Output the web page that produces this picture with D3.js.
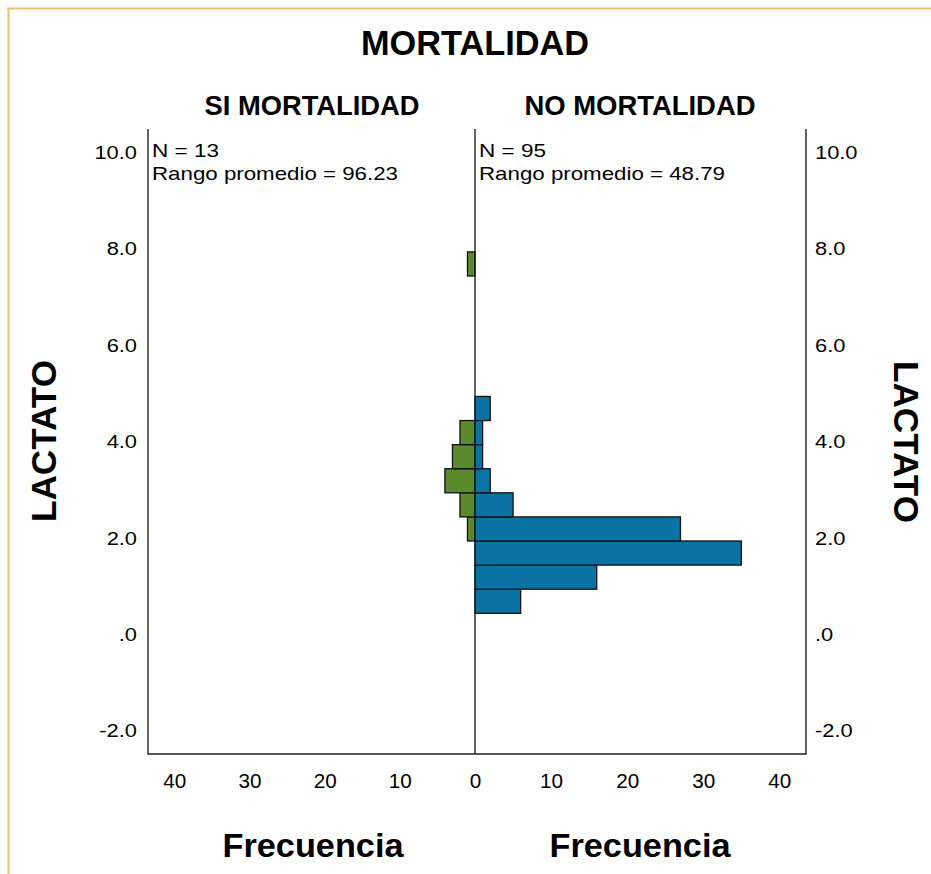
<!DOCTYPE html>
<html lang="en">
<head>
  <meta charset="utf-8" />
  <title>MORTALIDAD - LACTATO</title>
  <script src="https://cdnjs.cloudflare.com/ajax/libs/d3/7.8.5/d3.min.js"></script>
  <style>
    body { margin: 0; background: #fff; }
    svg text { font-family: "Liberation Sans", Arial, sans-serif; fill: #000; }
  </style>
</head>
<body>
<svg id="chart" width="931" height="874"></svg>
<script>
  // bins of LACTATO (lower edge, width 0.5)
  const binStarts = [0.5, 1.0, 1.5, 2.0, 2.5, 3.0, 3.5, 4.0, 4.5, 7.5];
  const siCounts  = [0, 0, 0, 1, 2, 4, 3, 2, 0, 1];   // SI MORTALIDAD
  const noCounts  = [6, 16, 35, 27, 5, 2, 1, 1, 2, 0]; // NO MORTALIDAD
  const binWidth = 0.5;

  const yTicks = [-2, 0, 2, 4, 6, 8, 10];
  const xTicks = [0, 10, 20, 30, 40];
  const panels = [
    { title: "SI MORTALIDAD", n: 13, rango: "96.23", counts: siCounts, color: "#5b8a2d", side: -1 },
    { title: "NO MORTALIDAD", n: 95, rango: "48.79", counts: noCounts, color: "#0a73a4", side: 1 }
  ];

  const svg = d3.select("#chart");

  // stretch text a bit, like the original rendering
  function widen(sel, k) {
    sel.each(function() {
      this.setAttribute("textLength", this.getComputedTextLength() * k);
      this.setAttribute("lengthAdjust", "spacingAndGlyphs");
    });
  }

  // outer yellow frame (top + left edge)
  svg.append("line").attr("x1", 7).attr("x2", 931).attr("y1", 8.5).attr("y2", 8.5)
    .attr("stroke", "#e9c46f").attr("stroke-width", 2);
  svg.append("line").attr("x1", 8.5).attr("x2", 8.5).attr("y1", 8).attr("y2", 874)
    .attr("stroke", "#e9c46f").attr("stroke-width", 2);

  const pLeft = 148, pRight = 806, mid = 475, pTop = 129, pBottom = 754;

  const y = d3.scaleLinear().domain([-2.42, 10.55]).range([pBottom, pTop]);
  const xR = d3.scaleLinear().domain([0, 43.5]).range([mid, pRight]);
  const xL = d3.scaleLinear().domain([0, 43.5]).range([mid, pLeft]);

  const fmtY = d => d === 0 ? ".0" : (d < 0 ? "-" + Math.abs(d).toFixed(1) : d.toFixed(1));

  // y axes (labels only)
  svg.append("g").attr("transform", "translate(" + pLeft + ",-3)")
    .call(d3.axisLeft(y).tickValues(yTicks).tickFormat(fmtY).tickSize(0).tickPadding(11))
    .call(g => g.select(".domain").remove())
    .selectAll("text").attr("font-size", 19).attr("fill", "#000")
    .style("font-family", "Liberation Sans, Arial").call(widen, 1.15);
  svg.append("g").attr("transform", "translate(" + pRight + ",-3)")
    .call(d3.axisRight(y).tickValues(yTicks).tickFormat(fmtY).tickSize(0).tickPadding(9))
    .call(g => g.select(".domain").remove())
    .selectAll("text").attr("font-size", 19).attr("fill", "#000")
    .style("font-family", "Liberation Sans, Arial").call(widen, 1.15);

  // x axes (labels only)
  [xL, xR].forEach(function(sc, i) {
    const vals = i === 0 ? xTicks.slice(1) : xTicks;
    svg.append("g").attr("transform", "translate(0," + pBottom + ")")
      .call(d3.axisBottom(sc).tickValues(vals).tickSize(0).tickPadding(19))
      .call(g => g.select(".domain").remove())
      .selectAll("text").attr("font-size", 21).attr("fill", "#000")
      .style("font-family", "Liberation Sans, Arial")
      .attr("textLength", d => String(d).length * 11.5)
      .attr("lengthAdjust", "spacingAndGlyphs");
  });

  // bars
  panels.forEach(function(p) {
    const sc = p.side < 0 ? xL : xR;
    svg.append("g").selectAll("rect")
      .data(binStarts.map((b, i) => ({ b: b, c: p.counts[i] })).filter(d => d.c > 0))
      .enter().append("rect")
      .attr("x", d => p.side < 0 ? sc(d.c) : mid)
      .attr("width", d => Math.abs(sc(d.c) - mid))
      .attr("y", d => y(d.b + binWidth))
      .attr("height", d => y(d.b) - y(d.b + binWidth))
      .attr("fill", p.color)
      .attr("stroke", "#111")
      .attr("stroke-width", 1.3);
  });

  // frame lines
  const frame = svg.append("g").attr("stroke", "#222").attr("stroke-width", 1.4).attr("fill", "none");
  frame.append("path").attr("d", "M" + pLeft + "," + pTop + "V" + pBottom + "H" + pRight + "V" + pTop);
  frame.append("line").attr("x1", mid).attr("x2", mid).attr("y1", pTop).attr("y2", pBottom);

  // annotations
  panels.forEach(function(p) {
    const x0 = (p.side < 0 ? pLeft : mid) + 4;
    svg.append("text").attr("x", x0).attr("y", 157).attr("font-size", 18.5)
      .attr("textLength", 67).attr("lengthAdjust", "spacingAndGlyphs").text("N = " + p.n);
    svg.append("text").attr("x", x0).attr("y", 180).attr("font-size", 18.5)
      .attr("textLength", 246).attr("lengthAdjust", "spacingAndGlyphs").text("Rango promedio = " + p.rango);
    svg.append("text")
      .attr("x", p.side < 0 ? 312 : 640).attr("y", 115)
      .attr("text-anchor", "middle").attr("font-size", 28).attr("font-weight", "bold")
      .attr("textLength", p.side < 0 ? 215 : 231).attr("lengthAdjust", "spacingAndGlyphs")
      .text(p.title);
    svg.append("text")
      .attr("x", p.side < 0 ? 313 : 640).attr("y", 857)
      .attr("text-anchor", "middle").attr("font-size", 34).attr("font-weight", "bold")
      .attr("textLength", 181).attr("lengthAdjust", "spacingAndGlyphs")
      .text("Frecuencia");
  });

  svg.append("text")
    .attr("x", mid).attr("y", 55).attr("text-anchor", "middle")
    .attr("font-size", 35).attr("font-weight", "bold")
    .attr("textLength", 228).attr("lengthAdjust", "spacingAndGlyphs").text("MORTALIDAD");

  svg.append("text").attr("transform", "translate(56,441) rotate(-90)")
    .attr("text-anchor", "middle").attr("font-size", 35).attr("font-weight", "bold")
    .attr("textLength", 162).attr("lengthAdjust", "spacingAndGlyphs").text("LACTATO");
  svg.append("text").attr("transform", "translate(894,442) rotate(90)")
    .attr("text-anchor", "middle").attr("font-size", 35).attr("font-weight", "bold")
    .attr("textLength", 162).attr("lengthAdjust", "spacingAndGlyphs").text("LACTATO");
</script>
</body>
</html>
